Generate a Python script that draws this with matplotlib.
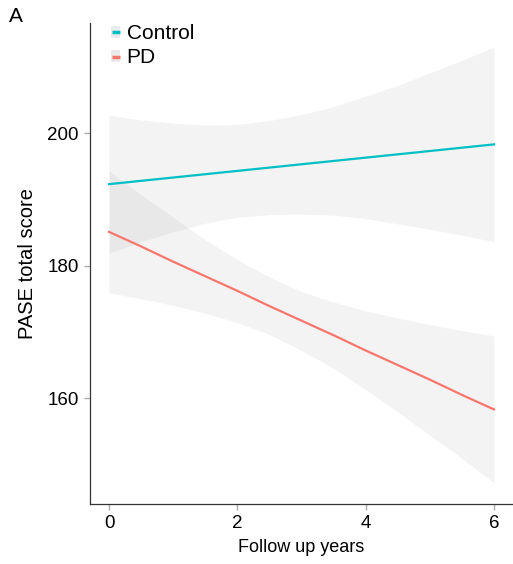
import matplotlib.pyplot as plt
from matplotlib.lines import Line2D
from matplotlib.patches import Patch

plt.rcParams['font.family'] = ['Liberation Sans', 'DejaVu Sans']

# values
years = [0, 0.5, 1, 1.5, 2, 2.5, 3, 3.5, 4, 4.5, 5, 5.5, 6]

control_fit = [192.3, 192.8, 193.3, 193.8, 194.3, 194.8, 195.3, 195.8, 196.3, 196.8, 197.3, 197.8, 198.3]
control_lo = [181.9, 183.6, 185.1, 186.4, 187.3, 187.7, 187.8, 187.6, 187.1, 186.3, 185.5, 184.6, 183.6]
control_hi = [202.7, 202.0, 201.5, 201.2, 201.3, 201.9, 202.8, 204.0, 205.6, 207.2, 209.1, 211.0, 213.0]

pd_fit = [185.1, 182.9, 180.6, 178.4, 176.2, 173.9, 171.7, 169.5, 167.2, 165.0, 162.8, 160.5, 158.3]
pd_lo = [175.9, 175.0, 174.0, 172.8, 171.4, 169.6, 167.2, 164.5, 161.3, 157.9, 154.4, 150.9, 147.2]
pd_hi = [194.3, 190.7, 187.3, 183.9, 180.9, 178.3, 176.1, 174.5, 173.2, 172.1, 171.1, 170.2, 169.4]

groups = ['Control', 'PD']
colors = ['#00BFC4', '#F8766D']

fig = plt.figure(figsize=(5.13, 5.64), dpi=100)
ax = fig.add_axes([0.175, 0.106, 0.823, 0.853])

series = [(control_fit, control_lo, control_hi), (pd_fit, pd_lo, pd_hi)]
for (fit, lo, hi), col in zip(series, colors):
    ax.fill_between(years, lo, hi, color='0.5', alpha=0.09, linewidth=0)
    ax.plot(years, fit, color=col, lw=1.6)

ax.set_xlim(-0.3, 6.28)
ax.set_ylim(144.0, 216.6)
ax.set_xticks([0, 2, 4, 6])
ax.set_yticks([160, 180, 200])

for s in ['top', 'right']:
    ax.spines[s].set_visible(False)
for s in ['left', 'bottom']:
    ax.spines[s].set_color('#333333')
    ax.spines[s].set_linewidth(0.9)
ax.tick_params(length=4, width=1, color='#aaaaaa', labelsize=13.5, labelcolor='black')
ax.tick_params(axis='x', pad=4)
ax.tick_params(axis='y', pad=4)

ax.set_xlabel('Follow up years', fontsize=13, labelpad=5)
ax.set_ylabel('PASE total score', fontsize=14.5, labelpad=7)

# legend key: light grey box with a short coloured dash
handles = [(Patch(facecolor='#ebebeb', edgecolor='none'),
            Line2D([], [], color=c, marker='_', markersize=6, mew=2.5, linestyle='none'))
           for c in colors]
ax.legend(handles, groups, loc='upper left', bbox_to_anchor=(0.05, 0.998), frameon=False,
          fontsize=15, handlelength=0.45, handleheight=0.5, handletextpad=0.3,
          labelspacing=0.25, borderpad=0, borderaxespad=0)

fig.text(0.018, 0.97, 'A', fontsize=15, va='center')

fig.savefig('out.png', dpi=100)
